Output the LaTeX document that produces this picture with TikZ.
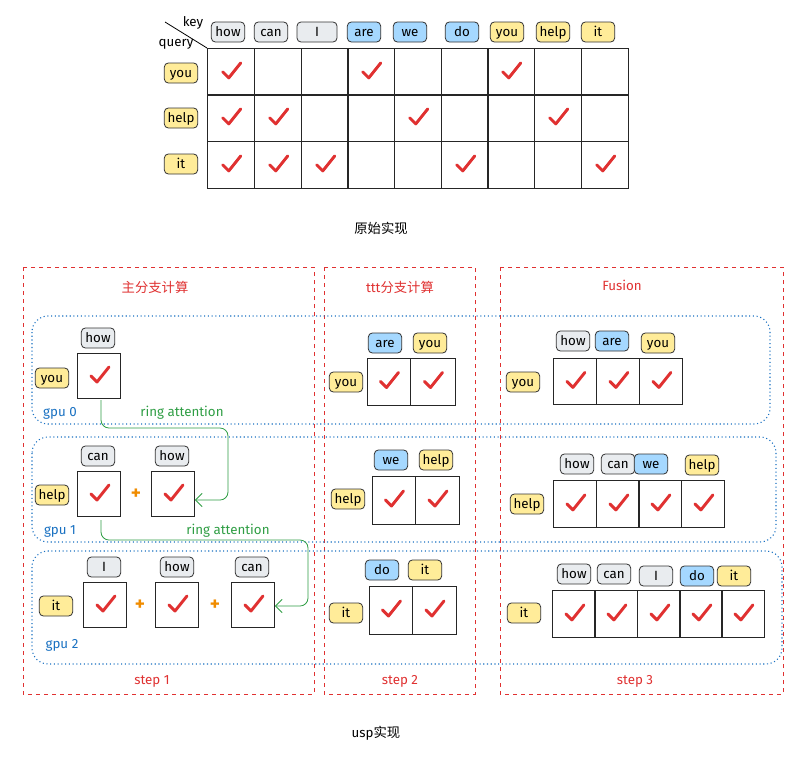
\documentclass[tikz,border=0pt]{standalone}
\usepackage{fontspec}
\setmainfont{Fira Sans}
\newfontfamily\cjk{Noto Sans CJK SC}
\usetikzlibrary{arrows.meta}
\definecolor{tg}{HTML}{E9ECEF}
\definecolor{tb}{HTML}{A5D8FF}
\definecolor{ty}{HTML}{FFEC99}
\definecolor{rd}{HTML}{E03131}
\definecolor{gr}{HTML}{2F9E44}
\definecolor{bl}{HTML}{1971C2}
\definecolor{og}{HTML}{F08C00}
\tikzset{
 tag/.style={draw=black!80,rounded corners=3pt,line width=0.6pt,inner sep=2pt,minimum height=15pt,minimum width=25pt,text height=1.5ex,text depth=.35ex,font=\normalsize},
 gt/.style={tag,fill=tg}, bt/.style={tag,fill=tb}, yt/.style={tag,fill=ty},
 cell/.style={draw=black!85,line width=0.6pt,minimum width=#1*0.75pt,minimum height=33.75pt,inner sep=0pt},
 cell/.default=43,
 panel/.style={draw=rd,dashed,line width=0.6pt},
 row/.style={draw=bl,dotted,line width=0.8pt,rounded corners=12pt},
 ring/.style={draw=gr,line width=0.6pt,rounded corners=6pt,-{Straight Barb[length=5pt]}},
 lbl/.style={font=\normalsize},
 plus/.style={text=og,font=\bfseries\Large}
}
\newcommand\ck[1]{\draw[rd,line width=2.2pt,line cap=round,line join=round] ([shift={(-8,0)}]#1.center) -- ([shift={(-2,6)}]#1.center) -- ([shift={(10,-9)}]#1.center);}
\begin{document}
\begin{tikzpicture}[x=0.75pt,y=-0.75pt]
\useasboundingbox[fill=white] (0,0) rectangle (812,757);
% top matrix
\foreach \i/\x in {0/207,1/254,2/301,3/347,4/394,5/441,6/487,7/534,8/581}{
 \foreach \j/\yy in {0/48,1/94,2/141}{
  \node[cell=46.7,minimum height=35.25pt,anchor=north west] (m\i\j) at (\x,\yy) {};}}
\node[gt] (k0) at (228,32) {how};
\node[gt] (k1) at (271,32) {can};
\node[gt,minimum width=30pt] (k2) at (317,32) {I};
\node[bt] (k3) at (364,32) {are};
\node[bt] (k4) at (410,32) {we};
\node[bt] (k5) at (462,32) {do};
\node[yt] (k6) at (507,32) {you};
\node[yt] (k7) at (553,32) {help};
\node[yt] (k8) at (598,32) {it};
\node[yt] (q0) at (181,73) {you};
\node[yt] (q1) at (181,118) {help};
\node[yt] (q2) at (181,164) {it};
\coordinate (d0) at (165,22);
\draw[line width=0.6pt] (d0) -- (m00.north west);
\node[lbl] (kk) at (193,23) {key};
\node[lbl] (qq) at (176,44) {query};
\foreach \c in {m00,m30,m60,m01,m11,m41,m71,m02,m12,m22,m52,m82}{\ck{\c}}
\node[font=\cjk\normalsize] (t1) at (381,228) {原始实现};
% panels
\draw[panel] (23,267) rectangle (314,694);
\draw[panel] (324,267) rectangle (475,694);
\draw[panel] (500,267) rectangle (783,694);
\draw[row] (32,316) rectangle (770,424);
\draw[row] (32,437) rectangle (776,542);
\draw[row] (32,551) rectangle (782,664);
\node[text=rd,font=\cjk\normalsize] (p1) at (155,287) {主分支计算};
\node[text=rd,lbl] (p2) at (400,287) {ttt{\cjk 分支计算}};
\node[text=rd,lbl] (p3) at (622,285) {Fusion};
\node[text=rd,lbl] (s1) at (152,681) {step 1};
\node[text=rd,lbl] (s2) at (400,681) {step 2};
\node[text=rd,lbl] (s3) at (635,681) {step 3};
% panel 1
\node[text=bl,lbl] (g0) at (60,413) {gpu 0};
\node[text=bl,lbl] (g1) at (60,531) {gpu 1};
\node[text=bl,lbl] (g2) at (62,645) {gpu 2};
\node[yt] at (52,378) {you};
\node[gt] at (98,338) {how};
\node[cell] (a0) at (99,376) {};
\node[yt] at (52,495) {help};
\node[gt] at (98,456) {can};
\node[cell] (a1) at (99,494) {};
\node[plus] at (136,494) {+};
\node[gt] at (172,456) {how};
\node[cell] (a2) at (173,494) {};
\node[yt] at (56,606) {it};
\node[gt] at (104,567) {I};
\node[cell] (b0) at (105,605) {};
\node[plus] at (140,605) {+};
\node[gt] at (177,567) {how};
\node[cell] (b1) at (177,605) {};
\node[plus] at (215,605) {+};
\node[gt] at (252,567) {can};
\node[cell] (b2) at (253,605) {};
\foreach \c in {a0,a1,a2,b0,b1,b2}{\ck{\c}}
\coordinate (r0) at (101,400);
\draw[ring] (r0) -- (101,428) -- (228,428) -- (228,500) -- (a2.east|-0,500);
\node[text=gr,lbl] at (182,413) {ring attention};
\coordinate (r1) at (101,520);
\draw[ring] (r1) -- (101,540) -- (308,540) -- (308,606) -- (b2.east|-0,606);
\node[text=gr,lbl] at (228,531) {ring attention};
% panel 2
\node[yt] at (346,382) {you};
\node[bt] at (385,343) {are};
\node[yt] at (430,343) {you};
\node[cell=43,minimum height=35.25pt] (c0) at (388.5,381.5) {};
\node[cell=45,minimum height=35.25pt] (c1) at (432.5,381.5) {};
\node[yt] at (348,499) {help};
\node[bt] at (391,460) {we};
\node[yt] at (436,460) {help};
\node[cell=43,minimum height=36pt] (c2) at (393.5,500) {};
\node[cell=44,minimum height=36pt] (c3) at (437,500) {};
\node[yt] at (346,613) {it};
\node[bt] at (382,570) {do};
\node[yt] at (425,570) {it};
\node[cell=43,minimum height=36pt] (c4) at (390.5,610) {};
\node[cell=44,minimum height=36pt] (c5) at (434,610) {};
\foreach \c in {c0,c1,c2,c3,c4,c5}{\ck{\c}}
% panel 3
\node[yt] at (523,382) {you};
\node[gt] at (573,341) {how};
\node[bt] at (612,341) {are};
\node[yt] at (658,343) {you};
\foreach \i/\x in {0/553,1/596,2/639}{\node[cell,anchor=north west,minimum height=34.5pt] (e\i) at (\x,358) {};\ck{e\i}}
\node[yt] at (527,504) {help};
\node[gt] at (577,464) {how};
\node[gt] at (618,464) {can};
\node[bt] at (651,464) {we};
\node[yt] at (702,465) {help};
\foreach \i/\x in {0/553,1/596,2/638,3/681}{\node[cell,anchor=north west,minimum height=35.25pt] (f\i) at (\x,480) {};\ck{f\i}}
\node[yt] at (524,613) {it};
\node[gt] at (574,574) {how};
\node[gt] at (614,574) {can};
\node[gt] at (656,576) {I};
\node[bt] at (697,576) {do};
\node[yt] at (734,576) {it};
\foreach \i/\x in {0/552,1/594,2/637,3/679,4/721}{\node[cell,anchor=north west,minimum height=35.25pt] (h\i) at (\x,590) {};\ck{h\i}}
\node[lbl] (t2) at (376,733) {usp{\cjk 实现}};
\end{tikzpicture}
\end{document}
